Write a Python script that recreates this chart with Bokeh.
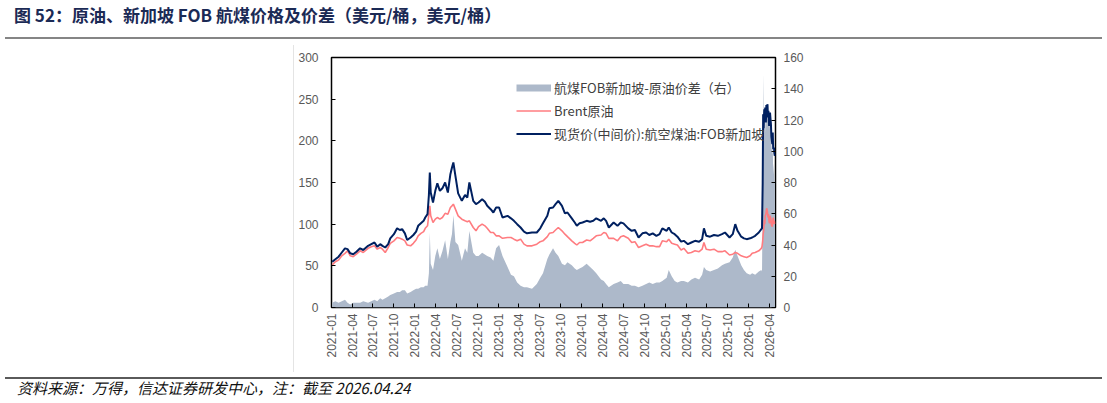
import math
import pandas as pd
from bokeh.plotting import figure
from bokeh.layouts import column
from bokeh.models import (Range1d, LinearAxis, FixedTicker, DatetimeTickFormatter,
                          Legend, LegendItem, ColumnDataSource, Div)
from bokeh.embed import file_html
from bokeh.resources import INLINE

# ---------------- data ----------------
dates = [
    "2021-01-04", "2021-01-18", "2021-02-01", "2021-02-15", "2021-03-01", "2021-03-12", "2021-03-24",
    "2021-04-06", "2021-04-20", "2021-05-06", "2021-05-20", "2021-06-10", "2021-06-24", "2021-07-08",
    "2021-07-20", "2021-08-02", "2021-08-12", "2021-08-24", "2021-09-06", "2021-09-15", "2021-10-01",
    "2021-10-15", "2021-10-27", "2021-11-06", "2021-11-18", "2021-11-28", "2021-12-13", "2021-12-25",
    "2022-01-06", "2022-01-15", "2022-01-27", "2022-02-08", "2022-02-15", "2022-02-25", "2022-03-03",
    "2022-03-07", "2022-03-11", "2022-03-21", "2022-03-31", "2022-04-09", "2022-04-20", "2022-05-01",
    "2022-05-13", "2022-05-25", "2022-06-05", "2022-06-12", "2022-06-18", "2022-06-27", "2022-07-09",
    "2022-07-25", "2022-08-08", "2022-08-18", "2022-08-27", "2022-09-13", "2022-09-25", "2022-10-06",
    "2022-10-22", "2022-11-03", "2022-11-13", "2022-11-28", "2022-12-10", "2022-12-22",
    "2023-01-04", "2023-01-19", "2023-02-10", "2023-02-25", "2023-03-10", "2023-03-24", "2023-04-08",
    "2023-04-23", "2023-05-06", "2023-05-28", "2023-06-18", "2023-07-03", "2023-07-15", "2023-08-03",
    "2023-08-12", "2023-08-28", "2023-09-08", "2023-09-20", "2023-10-06", "2023-10-19", "2023-10-30",
    "2023-11-18", "2023-12-01", "2023-12-10", "2023-12-22",
    "2024-01-04", "2024-01-22", "2024-02-06", "2024-02-20", "2024-03-04", "2024-03-25", "2024-04-06",
    "2024-04-16", "2024-04-28", "2024-05-19", "2024-06-05", "2024-06-19", "2024-07-01", "2024-07-22",
    "2024-08-06", "2024-08-20", "2024-09-05", "2024-09-22", "2024-10-08", "2024-10-22", "2024-11-06",
    "2024-11-22", "2024-12-06", "2024-12-18",
    "2025-01-06", "2025-01-15", "2025-01-28", "2025-02-10", "2025-02-22", "2025-03-10", "2025-03-22",
    "2025-04-09", "2025-04-24", "2025-05-10", "2025-05-28", "2025-06-10", "2025-06-18", "2025-06-28",
    "2025-07-15", "2025-08-01", "2025-08-18", "2025-09-05", "2025-09-18", "2025-10-08", "2025-10-22",
    "2025-11-02", "2025-11-12", "2025-11-28", "2025-12-10", "2025-12-22",
    "2026-01-06", "2026-01-15", "2026-01-28", "2026-02-13", "2026-02-24", "2026-02-27", "2026-03-02",
    "2026-03-04", "2026-03-06", "2026-03-09", "2026-03-11", "2026-03-13", "2026-03-16", "2026-03-18",
    "2026-03-20", "2026-03-23", "2026-03-25", "2026-03-27", "2026-03-30", "2026-04-01", "2026-04-03",
    "2026-04-07", "2026-04-09", "2026-04-13", "2026-04-15", "2026-04-17", "2026-04-20", "2026-04-22",
    "2026-04-24",
]

# 现货价(中间价):航空煤油:FOB新加坡 (left axis, USD/bbl)
jet_fob_sg = [
    55, 58, 61, 66, 71, 70, 65,
    64, 67, 71, 69, 74, 76, 78,
    73, 76, 74, 72, 76, 83, 88,
    95, 93, 94, 89, 81, 84, 87,
    91, 98, 101, 104, 108, 112, 135,
    162, 138, 126, 140, 149, 140, 143,
    150, 138, 160, 168, 174, 158, 137,
    128, 135, 132, 150, 128, 124, 126,
    130, 127, 122, 118, 114, 120,
    120, 108, 110, 107, 104, 100, 96,
    91, 89, 90, 90, 95, 101, 110,
    119, 120, 124, 128, 122, 113, 114,
    107, 102, 98, 101,
    102, 104, 103, 104, 107, 104, 107,
    104, 96, 102, 98, 102, 101, 95,
    92, 93, 84, 89, 90, 87, 89,
    86, 88, 95,
    92, 96, 90, 88, 85, 79, 80,
    76, 78, 80, 79, 82, 95, 86,
    85, 87, 86, 88, 90, 84, 88,
    100, 92, 85, 83, 82,
    83, 84, 86, 90, 94, 95, 150,
    232, 215, 238, 225, 240, 222, 243,
    235, 244, 228, 236, 218, 226, 234,
    220, 205, 196, 210, 190, 192, 185,
    182,
]

# Brent原油 (left axis, USD/bbl)
brent = [
    51, 55, 57, 62, 65, 68, 62,
    61, 64, 68, 66, 71, 73, 74,
    70, 72, 70, 66, 72, 77, 80,
    84, 83, 82, 80, 75, 74, 77,
    81, 86, 89, 91, 95, 98, 112,
    122, 110, 102, 106, 108, 106, 108,
    113, 112, 120, 122, 124, 118, 110,
    106, 104, 103, 104, 96, 92, 97,
    100, 98, 95, 90, 90, 86,
    86, 83, 84, 84, 82, 80, 82,
    76, 74, 74, 76, 79, 80, 85,
    89, 90, 93, 96, 92, 88, 85,
    80, 77, 75, 78,
    78, 81, 80, 83, 86, 87, 90,
    89, 83, 83, 80, 85, 86, 83,
    78, 79, 72, 74, 76, 74, 74,
    73, 73, 80,
    79, 82, 77, 76, 75, 69, 71,
    65, 66, 68, 67, 70, 78, 70,
    69, 70, 67, 67, 68, 63, 64,
    66, 65, 62, 61, 60,
    62, 65, 66, 68, 71, 73, 80,
    88, 92, 105, 100, 110, 112, 117,
    119, 114, 108, 112, 103, 101, 110,
    106, 99, 97, 104, 108, 100, 104,
    100,
]

# 航煤FOB新加坡-原油价差（右） (right axis, USD/bbl)
spread = [
    3, 4, 3, 4, 5, 3, 2,
    3, 3, 3, 4, 3, 4, 5,
    4, 6, 5, 6, 7, 8, 9,
    10, 10, 11, 11, 9, 10, 11,
    12, 12, 13, 13, 14, 14, 22,
    48, 28, 24, 33, 38, 31, 36,
    43, 31, 42, 47, 59, 42, 40,
    30, 38, 35, 49, 35, 33, 33,
    35, 34, 33, 32, 30, 38,
    40, 33, 26, 21, 20, 16, 14,
    13, 13, 12, 15, 19, 22, 31,
    34, 38, 35, 33, 28, 27, 29,
    27, 25, 24, 25,
    26, 28, 26, 24, 22, 18, 17,
    15, 13, 15, 16, 17, 15, 15,
    14, 14, 13, 14, 15, 16, 15,
    16, 16, 17,
    19, 24, 20, 17, 16, 17, 17,
    16, 18, 19, 18, 21, 26, 24,
    23, 24, 25, 27, 28, 29, 32,
    37, 33, 27, 24, 22,
    21, 22, 21, 23, 24, 23, 70,
    150, 125, 128, 122, 127, 112, 126,
    118, 128, 120, 122, 114, 123, 120,
    113, 104, 98, 104, 85, 92, 82,
    80,
]

left_ticks = [0, 50, 100, 150, 200, 250, 300]
right_ticks = [0, 20, 40, 60, 80, 100, 120, 140, 160]
quarter_ticks = pd.date_range("2021-01-01", "2026-04-01", freq="QS")

title_text = "图 52：原油、新加坡 FOB 航煤价格及价差（美元/桶，美元/桶）"
source_text = "资料来源：万得，信达证券研发中心，注：截至 2026.04.24"
label_spread = "航煤FOB新加坡-原油价差（右）"
label_brent = "Brent原油"
label_jet = "现货价(中间价):航空煤油:FOB新加坡"

assert len(dates) == len(jet_fob_sg) == len(brent) == len(spread)

# ---------------- layout geometry ----------------
W, H = 1107, 403
HEAD_H = 45          # header strip (title + rule)
FOOT_H = 31          # footer strip (rule + source)
FIG_H = H - HEAD_H - FOOT_H
FL, FR = 331, 775    # frame left / right (page px)
FT, FB = 57, 307     # frame top / bottom (page px)

GRAY = "#adb9ca"
PINK = "#ff7c80"
NAVY = "#002060"
TICKC = "#595959"

src = ColumnDataSource(dict(date=pd.to_datetime(dates), jet=jet_fob_sg, brent=brent, spread=spread))

p = figure(width=W, height=FIG_H, output_backend="svg", toolbar_location=None,
           x_axis_type="datetime",
           x_range=Range1d(pd.Timestamp("2021-01-01"), pd.Timestamp("2026-04-27")),
           y_range=Range1d(0, 300),
           min_border_left=FL, min_border_right=W - FR,
           min_border_top=FT - HEAD_H, min_border_bottom=(HEAD_H + FIG_H) - FB)
p.extra_y_ranges = {"right": Range1d(0, 160)}
p.background_fill_color = "white"
p.border_fill_alpha = 0
# faint chart-object edge on the left of the chart block
p.styles = {"background": "linear-gradient(to right, #ffffff 293px, #e4e4e4 293px, "
                          "#e4e4e4 294px, #ffffff 294px)"}
p.outline_line_color = "black"
p.outline_line_width = 1.5
p.xgrid.visible = False
p.ygrid.visible = False

area = p.varea(x="date", y1=0, y2="spread", source=src, y_range_name="right",
               fill_color=GRAY, fill_alpha=1.0)
l_brent = p.line(x="date", y="brent", source=src, line_color=PINK, line_width=1.6)
l_jet = p.line(x="date", y="jet", source=src, line_color=NAVY, line_width=2)
# legend key for the spread area (a thick bar, drawn only in the legend)
gray_key = p.line(x=[pd.Timestamp(dates[0])], y=[float("nan")], line_color=GRAY, line_width=7)

# axes
yl = p.yaxis[0]
yl.ticker = FixedTicker(ticks=left_ticks)
yr = LinearAxis(y_range_name="right", ticker=FixedTicker(ticks=right_ticks))
p.add_layout(yr, "right")
xa = p.xaxis[0]
xa.ticker = FixedTicker(ticks=(quarter_ticks.astype("int64") // 10**6).tolist())
xa.formatter = DatetimeTickFormatter(years="%Y-%m", months="%Y-%m", days="%Y-%m",
                                     hours="%Y-%m", context=None)
xa.major_label_orientation = math.pi / 2

for ax in (yl, yr, xa):
    ax.axis_line_color = None
    ax.major_tick_in = 4
    ax.major_tick_out = 0
    ax.minor_tick_line_color = None
    ax.major_tick_line_color = "black"
    ax.major_tick_line_width = 1
    ax.major_label_text_color = TICKC
    ax.major_label_text_font = "Liberation Sans"
    ax.major_label_text_font_size = "12px"
yl.major_label_standoff = 13
yr.major_label_standoff = 8
xa.major_label_standoff = 6

# legend
legend = Legend(items=[LegendItem(label=label_spread, renderers=[gray_key]),
                       LegendItem(label=label_brent, renderers=[l_brent]),
                       LegendItem(label=label_jet, renderers=[l_jet])],
                location=(185, 163), orientation="vertical",
                glyph_width=35, glyph_height=21, label_height=21, spacing=2,
                label_standoff=3, padding=0, margin=0,
                border_line_color=None, background_fill_alpha=0,
                label_text_font="Noto Sans CJK SC", label_text_font_size="13px",
                label_text_color="#404040")
p.add_layout(legend)

# ---------------- header / footer ----------------
header_html = (
    '<div style="position:relative;width:%dpx;height:%dpx;overflow:hidden;">'
    '<div style="position:absolute;left:14px;top:3px;white-space:nowrap;'
    'font-family:\'Noto Sans CJK SC\';font-weight:bold;font-size:17px;line-height:24px;'
    'color:#1b2a55;">%s</div>'
    '<div style="position:absolute;left:5px;top:37px;width:1097px;height:2px;'
    'background:#858585;"></div>'
    '</div>' % (W, HEAD_H, title_text)
)
footer_html = (
    '<div style="position:relative;width:%dpx;height:%dpx;overflow:hidden;">'
    '<div style="position:absolute;left:5px;top:5px;width:1097px;height:2px;'
    'background:#5a5a5a;"></div>'
    '<div style="position:absolute;left:17px;top:5px;white-space:nowrap;'
    'font-family:\'Noto Sans CJK SC\';font-style:italic;font-size:15px;line-height:22px;'
    'color:#111111;">%s</div>'
    '</div>' % (W, FOOT_H, source_text)
)
header = Div(text=header_html, width=W, height=HEAD_H, margin=0)
footer = Div(text=footer_html, width=W, height=FOOT_H, margin=0)

layout = column(header, p, footer, spacing=0, margin=0)

open("out.html", "w").write(file_html(layout, INLINE))
